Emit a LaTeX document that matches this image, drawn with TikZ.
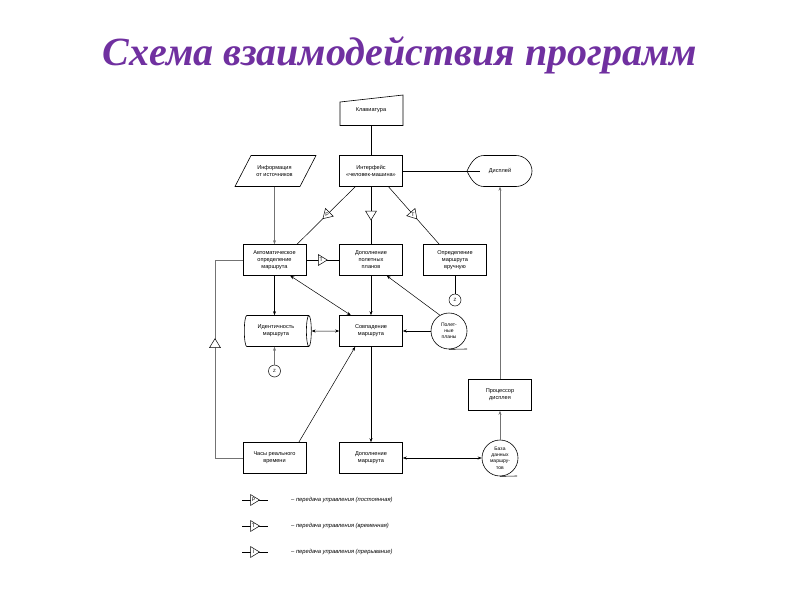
\documentclass[tikz,border=0pt]{standalone}
\usepackage{fontspec}
\setmainfont{Liberation Sans}
\newfontfamily\titlefont{Liberation Serif}
\usepackage{tikz}
\usetikzlibrary{shapes.geometric,arrows.meta}
\definecolor{titleviolet}{RGB}{112,48,160}

\tikzset{
  boxtext/.style={minimum width=63pt, minimum height=31pt, inner sep=1pt, align=center,
    font=\fontsize{5.6}{7}\selectfont},
  blk/.style={boxtext, draw, line width=0.6pt},
  zcirc/.style={draw, circle, line width=0.5pt, minimum size=12pt, inner sep=0pt,
    font=\fontsize{4.5}{5}\selectfont},
  store/.style={draw, circle, line width=0.6pt, minimum size=36pt, inner sep=0pt, align=center,
    font=\fontsize{5}{6.2}\selectfont},
  link/.style={line width=0.5pt},
  faint/.style={line width=0.5pt, black!55},
  arr/.style={link, -{Stealth[length=4pt,width=3pt]}},
  darr/.style={link, {Stealth[length=4pt,width=3pt]}-{Stealth[length=4pt,width=3pt]}},
  ctrlmark/.pic={
    \draw[fill=white, line width=0.5pt, draw=black] (-4.5pt,-5.5pt) -- (4.5pt,0pt) -- (-4.5pt,5.5pt) -- cycle;
    \node[inner sep=0pt, text=black, font=\fontsize{5.2}{5.2}\selectfont] at (-1.5pt,0pt) {#1};
  },
}

\begin{document}
\begin{tikzpicture}[x=1pt, y=-1pt]
    \useasboundingbox (0,0) rectangle (800,600);

    \node[font=\titlefont\bfseries\itshape\fontsize{40}{48}\selectfont, text=titleviolet]
      (title) at (400,55) {Схема взаимодействия программ};

    \node[boxtext] (kbd) at (371,110) {Клавиатура};
    \draw[line width=0.6pt] (340,102) -- (403,95) -- (403,125.5) -- (340,125.5) -- cycle;

    \node[boxtext] (info) at (274.5,171) {Информация\\от источников};
    \draw[line width=0.6pt] (251,155.5) -- (316,155.5) -- (300,186.5) -- (235,186.5) -- cycle;

    \node[blk] (iface) at (371,171) {Интерфейс\\«человек-машина»};

    \node[boxtext, minimum width=40pt] (disp) at (500,171) {Дисплей};
    \draw[line width=0.6pt] (467,171) .. controls (471,162) and (476,155.5) .. (484,155.5)
      -- (516,155.5) .. controls (525,155.5) and (532,163) .. (532,171)
      .. controls (532,179) and (525,186.5) .. (516,186.5)
      -- (484,186.5) .. controls (476,186.5) and (471,180) .. (467,171);

    \node[blk] (auto) at (274.5,260) {Автоматическое\\определение\\маршрута};
    \node[blk] (fplan) at (371,260) {Дополнение\\полетных\\планов};
    \node[blk] (manual) at (455,260) {Определение\\маршрута\\вручную};
    \node[zcirc] (zman) at (455,300) {Z};

    \node[cylinder, draw, line width=0.6pt, shape aspect=0.35, minimum width=31pt, minimum height=67pt,
      inner sep=1pt, align=center, font=\fontsize{5.6}{7}\selectfont] (ident) at (276,331) {Идентичность\\маршрута};
    \node[blk] (match) at (371,331) {Совпадение\\маршрута};
    \node[store] (plans) at (449,331) {Полет-\\ные\\планы};
    \draw[line width=0.6pt] (plans.south) -- (467,349);
    \node[zcirc] (zid) at (274.5,371) {Z};

    \node[blk] (proc) at (500,395) {Процессор\\дисплея};
    \node[blk] (clock) at (274.5,458) {Часы реального\\времени};
    \node[blk] (radd) at (371,458) {Дополнение\\маршрута};
    \node[store] (db) at (500,458) {База\\данных\\маршру-\\тов};
    \draw[line width=0.6pt] (db.south) -- (517,476);

    \draw[link] (kbd) -- (iface);
    \draw[link] (iface) -- (disp.west);
    \draw[faint, -{Stealth[length=4pt,width=3pt]}] (info) -- (auto);
    \draw[link] (iface.-135) -- pic[sloped, allow upside down]{ctrlmark=P} (auto.35);
    \draw[link] (iface) -- pic[sloped, allow upside down]{ctrlmark={}} (fplan);
    \draw[link] (iface.-42) -- pic[sloped, allow upside down]{ctrlmark=T} (manual.135);
    \draw[link] (auto) -- pic[sloped]{ctrlmark=T} (fplan);
    \draw[link] (manual) -- (zman);

    \draw[arr] (auto) -- (auto |- ident.north);
    \draw[faint, -{Stealth[length=4pt,width=3pt]}] (zid) -- (zid |- ident.south);
    \draw[darr] (ident) -- (match);
    \draw[darr] (auto.-45) -- (match.142);
    \draw[arr] (fplan) -- (match);
    \draw[arr] (plans.120) -- (fplan.-45);
    \draw[arr] (plans) -- (match);

    \draw[arr] (clock.33) -- (match.-135);
    \draw[arr] (match) -- (radd);
    \draw[darr] (radd) -- (db);
    \draw[faint, -{Stealth[length=4pt,width=3pt]}] (db) -- (proc);
    \draw[faint, -{Stealth[length=4pt,width=3pt]}] (proc) -- (disp.south);

    \coordinate (loopb) at (215,458);
    \coordinate (loopt) at (215,260);
    \draw[faint] (clock.west) -- (loopb) -- pic[pos=0.58, sloped]{ctrlmark={}} (loopt) -- (auto.west);

    \foreach \y/\c/\t in {500/P/постоянная, 526/T/временная, 552/I/прерывание} {
      \coordinate (lga) at (242,\y);
      \coordinate (lgb) at (268,\y);
      \draw[link] (lga) -- pic[sloped]{ctrlmark=\c} (lgb);
      \node[anchor=west, inner sep=0pt, font=\itshape\fontsize{5.8}{7}\selectfont] (lgt) at (291,\y)
        {-- передача управления (\t)};
    }
\end{tikzpicture}
\end{document}
